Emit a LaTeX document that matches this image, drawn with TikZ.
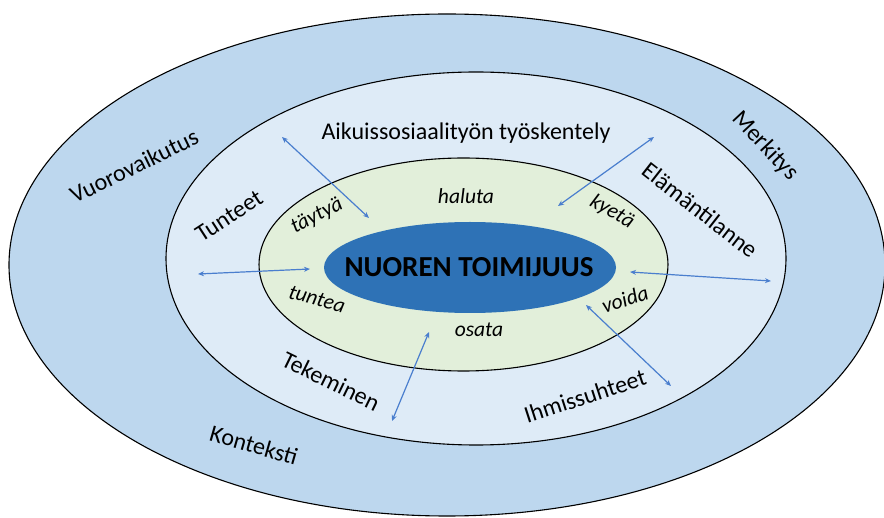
\documentclass[tikz,border=0pt]{standalone}
\usepackage{fontspec}
\setmainfont{Carlito}
\usetikzlibrary{arrows.meta,shapes.geometric}
\definecolor{outerblue}{RGB}{189,215,238}
\definecolor{midblue}{RGB}{222,235,247}
\definecolor{ingreen}{RGB}{226,239,218}
\definecolor{coreblue}{RGB}{46,114,182}
\definecolor{arrowblue}{RGB}{74,126,206}
\begin{document}
\begin{tikzpicture}[x=1pt,y=-1pt,
  ring/.style={draw=black,line width=1.1pt},
  lbl/.style={font=\fontsize{24}{28}\selectfont,inner sep=0pt},
  verb/.style={font=\fontsize{21.5}{25}\selectfont\itshape,inner sep=0pt},
  arr/.style={draw=arrowblue,line width=1.2pt,{Stealth[length=6pt,width=5pt]}-{Stealth[length=6pt,width=5pt]}}]
\useasboundingbox (0,0) rectangle (884,518);
\clip (0,0) rectangle (884,518);
\fill[white] (0,0) rectangle (884,518);
% rings
\filldraw[ring,fill=outerblue] (447,265) ellipse [x radius=438pt, y radius=251pt];
\filldraw[ring,fill=midblue] (476,258.5) ellipse [x radius=310pt, y radius=186.5pt];
\filldraw[ring,fill=ingreen] (463.5,264.5) ellipse [x radius=204.5pt, y radius=106.5pt];
\fill[coreblue] (470,267.5) ellipse [x radius=146pt, y radius=45.5pt];
\node[inner sep=0pt,font=\fontsize{29}{33}\selectfont\bfseries] (core) at (469,267) {NUOREN TOIMIJUUS};
% outer labels
\node[lbl,rotate=26] (vuoro) at (134,166) {Vuorovaikutus};
\node[lbl,rotate=-47] (merk) at (765,146) {Merkitys};
\node[lbl,rotate=-16] (kont) at (254,445) {Konteksti};
% middle labels
\node[lbl] (aikui) at (466,133) {Aikuissosiaalityön työskentely};
\node[lbl,rotate=33] (tunteet) at (229,216) {Tunteet};
\node[lbl,rotate=-38] (elam) at (700,210) {Elämäntilanne};
\node[lbl,rotate=-26] (tekem) at (331,381) {Tekeminen};
\node[lbl,rotate=18] (ihmis) at (585,396) {Ihmissuhteet};
% inner verbs
\node[verb,rotate=28] (tayt) at (317,216) {täytyä};
\node[verb] (halu) at (466,196) {haluta};
\node[verb,rotate=-30] (kyet) at (612,212) {kyetä};
\node[verb,rotate=-15] (tunt) at (317,299) {tuntea};
\node[verb,rotate=18] (void) at (625,299) {voida};
\node[verb] (osat) at (479,330) {osata};
% arrows
\coordinate (a1) at (282,137); \coordinate (b1) at (369,218);
\coordinate (a2) at (654,137); \coordinate (b2) at (558,206);
\coordinate (a3) at (198,274); \coordinate (b3) at (310,269);
\coordinate (a4) at (630,272); \coordinate (b4) at (771,281);
\coordinate (a5) at (429,332); \coordinate (b5) at (392,421);
\coordinate (a6) at (586,305); \coordinate (b6) at (671,386);
\draw[arr] (a1) -- (b1);
\draw[arr] (a2) -- (b2);
\draw[arr] (a3) -- (b3);
\draw[arr] (a4) -- (b4);
\draw[arr] (a5) -- (b5);
\draw[arr] (a6) -- (b6);
\end{tikzpicture}
\end{document}
